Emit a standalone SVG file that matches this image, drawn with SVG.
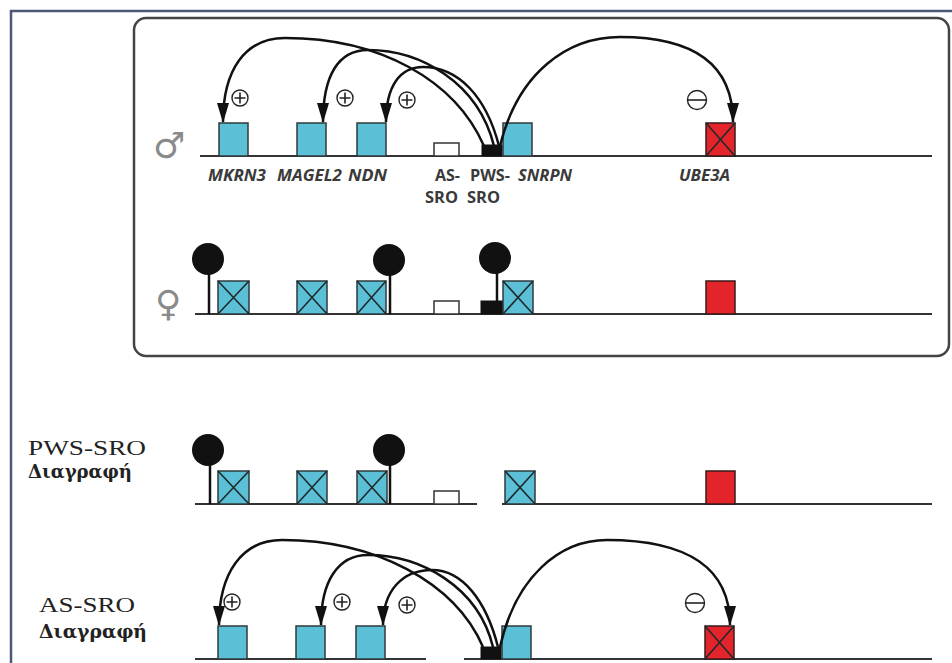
<svg xmlns="http://www.w3.org/2000/svg" width="952" height="663" viewBox="0 0 952 663">
<defs>
<style>
.gene{fill:#5bbfd6;stroke:#2f3a3d;stroke-width:1.5}
.red{fill:#e3242b;stroke:#3a1a1a;stroke-width:1.5}
.blk{fill:#111;stroke:#111;stroke-width:1}
.wht{fill:#fff;stroke:#333;stroke-width:1.5}
.x{stroke:#1e2a2c;stroke-width:1.6;fill:none}
.base{stroke:#333;stroke-width:2;fill:none}
.stem{stroke:#111;stroke-width:2.5;fill:none}
.pin{fill:#111}
.arc{stroke:#111;stroke-width:2.5;fill:none;marker-end:url(#ah)}
.sgn{fill:#fff;stroke:#222;stroke-width:1.4}
.sgnl{stroke:#222;stroke-width:1.6;fill:none}
.lbl{font-family:"Open Sans","DejaVu Sans",sans-serif;font-weight:bold;font-style:italic;font-size:16px;fill:#3a3a3a}
.lbn{font-family:"Open Sans","DejaVu Sans",sans-serif;font-weight:bold;font-size:16px;fill:#3a3a3a}
.ser{font-family:"Liberation Serif","DejaVu Serif",serif;font-size:22px;fill:#222}
.serb{font-family:"DejaVu Serif","Liberation Serif",serif;font-size:18px;font-weight:bold;fill:#222}
.sym{font-family:"DejaVu Sans",sans-serif;font-size:36px;fill:#8a8a8a}
</style>
<marker id="ah" markerUnits="userSpaceOnUse" markerWidth="20" markerHeight="12" viewBox="0 0 20 12" refX="19" refY="6" orient="auto">
<path d="M0,0 L20,6 L0,12 z" fill="#111"/>
</marker>
</defs>
<rect x="0" y="0" width="952" height="663" fill="#fff"/>
<path d="M11,663 L11,11 L952,11" fill="none" stroke="#4b5878" stroke-width="2.5"/>
<rect x="134" y="18" width="815" height="338" rx="12" fill="#fff" stroke="#444" stroke-width="2.5"/>

<g id="male-row">
<text class="sym" x="153" y="158">♂</text>
<line class="base" x1="200" y1="156" x2="932" y2="156"/>
<g id="m-mkrn3"><rect class="gene" x="219" y="123" width="29" height="33"/></g>
<g id="m-magel2"><rect class="gene" x="297" y="123" width="29" height="33"/></g>
<g id="m-ndn"><rect class="gene" x="357" y="123" width="29" height="33"/></g>
<g id="m-as"><rect class="wht" x="434" y="143" width="25" height="13"/></g>
<g id="m-pws"><rect class="blk" x="482" y="145" width="20" height="11"/></g>
<g id="m-snrpn"><rect class="gene" x="503" y="123" width="29" height="33"/></g>
<g id="m-ube3a"><rect class="red" x="706" y="123" width="29" height="33"/><path class="x" d="M706,123 L735,156 M735,123 L706,156"/></g>
<text class="lbl" x="208" y="181" textLength="58" lengthAdjust="spacingAndGlyphs">MKRN3</text>
<text class="lbl" x="277" y="181" textLength="65" lengthAdjust="spacingAndGlyphs">MAGEL2</text>
<text class="lbl" x="348" y="181" textLength="39" lengthAdjust="spacingAndGlyphs">NDN</text>
<text class="lbn" x="435" y="181" textLength="25" lengthAdjust="spacingAndGlyphs">AS-</text>
<text class="lbn" x="470" y="181" textLength="40" lengthAdjust="spacingAndGlyphs">PWS-</text>
<text class="lbl" x="518" y="181" textLength="54" lengthAdjust="spacingAndGlyphs">SNRPN</text>
<text class="lbl" x="679" y="181" textLength="51" lengthAdjust="spacingAndGlyphs">UBE3A</text>
<text class="lbn" x="425" y="203" textLength="33" lengthAdjust="spacingAndGlyphs">SRO</text>
<text class="lbn" x="467" y="203" textLength="33" lengthAdjust="spacingAndGlyphs">SRO</text>
<g id="m-signs">
<circle class="sgn" cx="240" cy="98" r="8"/><path class="sgnl" d="M234.5,98 h11 M240,92.5 v11"/>
<circle class="sgn" cx="345" cy="98" r="8"/><path class="sgnl" d="M339.5,98 h11 M345,92.5 v11"/>
<circle class="sgn" cx="407" cy="100" r="8"/><path class="sgnl" d="M401.5,100 h11 M407,94.5 v11"/>
<circle class="sgn" cx="697" cy="100" r="9.5"/><path class="sgnl" d="M688,100 h18"/>
</g>
</g>

<g id="female-row">
<text class="sym" x="155" y="316">♀</text>
<line class="base" x1="195" y1="314" x2="932" y2="314"/>
<g id="f-mkrn3"><rect class="gene" x="218" y="281" width="31" height="33"/><path class="x" d="M218,281 L249,314 M249,281 L218,314"/></g>
<g id="f-magel2"><rect class="gene" x="297" y="281" width="30" height="33"/><path class="x" d="M297,281 L327,314 M327,281 L297,314"/></g>
<g id="f-ndn"><rect class="gene" x="357" y="281" width="29" height="33"/><path class="x" d="M357,281 L386,314 M386,281 L357,314"/></g>
<g id="f-as"><rect class="wht" x="434" y="301" width="25" height="13"/></g>
<g id="f-pws"><rect class="blk" x="481" y="301" width="22" height="13"/></g>
<g id="f-snrpn"><rect class="gene" x="503" y="281" width="30" height="33"/><path class="x" d="M503,281 L533,314 M533,281 L503,314"/></g>
<g id="f-ube3a"><rect class="red" x="706" y="281" width="29" height="33"/></g>
<g id="f-meth">
<line class="stem" x1="209" y1="314" x2="209" y2="260"/><circle class="pin" cx="208" cy="259" r="16"/>
<line class="stem" x1="390" y1="314" x2="390" y2="260"/><circle class="pin" cx="389" cy="260" r="16"/>
<line class="stem" x1="497" y1="301" x2="497" y2="259"/><circle class="pin" cx="495" cy="258" r="16"/>
</g>
</g>

<g id="pws-del-row">
<text class="ser" x="28" y="455" textLength="118" lengthAdjust="spacingAndGlyphs">PWS-SRO</text>
<text class="serb" x="28" y="478" textLength="104" lengthAdjust="spacingAndGlyphs">Διαγραφή</text>
<line class="base" x1="195" y1="504" x2="477" y2="504"/>
<line class="base" x1="502" y1="504" x2="932" y2="504"/>
<g id="p-mkrn3"><rect class="gene" x="218" y="471" width="31" height="33"/><path class="x" d="M218,471 L249,504 M249,471 L218,504"/></g>
<g id="p-magel2"><rect class="gene" x="297" y="471" width="30" height="33"/><path class="x" d="M297,471 L327,504 M327,471 L297,504"/></g>
<g id="p-ndn"><rect class="gene" x="357" y="471" width="30" height="33"/><path class="x" d="M357,471 L387,504 M387,471 L357,504"/></g>
<g id="p-as"><rect class="wht" x="434" y="491" width="25" height="13"/></g>
<g id="p-snrpn"><rect class="gene" x="505" y="471" width="30" height="33"/><path class="x" d="M505,471 L535,504 M535,471 L505,504"/></g>
<g id="p-ube3a"><rect class="red" x="706" y="471" width="29" height="33"/></g>
<g id="p-meth">
<line class="stem" x1="210" y1="504" x2="210" y2="451"/><circle class="pin" cx="208" cy="450" r="16"/>
<line class="stem" x1="390" y1="504" x2="390" y2="451"/><circle class="pin" cx="389" cy="450" r="16"/>
</g>
</g>

<g id="as-del-row">
<text class="ser" x="39" y="612" textLength="96" lengthAdjust="spacingAndGlyphs">AS-SRO</text>
<text class="serb" x="39" y="638" textLength="108" lengthAdjust="spacingAndGlyphs">Διαγραφή</text>
<line class="base" x1="195" y1="659" x2="426" y2="659"/>
<line class="base" x1="464" y1="659" x2="932" y2="659"/>
<g id="a-mkrn3"><rect class="gene" x="218" y="626" width="29" height="33"/></g>
<g id="a-magel2"><rect class="gene" x="296" y="626" width="29" height="33"/></g>
<g id="a-ndn"><rect class="gene" x="356" y="626" width="29" height="33"/></g>
<g id="a-pws"><rect class="blk" x="481" y="647" width="20" height="12"/></g>
<g id="a-snrpn"><rect class="gene" x="502" y="626" width="29" height="33"/></g>
<g id="a-ube3a"><rect class="red" x="705" y="626" width="29" height="33"/><path class="x" d="M705,626 L734,659 M734,626 L705,659"/></g>
<g id="a-signs">
<circle class="sgn" cx="232" cy="602" r="8"/><path class="sgnl" d="M226.5,602 h11 M232,596.5 v11"/>
<circle class="sgn" cx="342" cy="602" r="8"/><path class="sgnl" d="M336.5,602 h11 M342,596.5 v11"/>
<circle class="sgn" cx="407" cy="605" r="8"/><path class="sgnl" d="M401.5,605 h11 M407,599.5 v11"/>
<circle class="sgn" cx="695" cy="603" r="9.5"/><path class="sgnl" d="M686,603 h18"/>
</g>
</g>

<g id="connectors">
<path class="arc" d="M484,146 C455,80 380,38 285,38 C245,38 223,70 223,122"/>
<path class="arc" d="M494,146 C478,82 420,50 368,50 C338,50 323,76 323,122"/>
<path class="arc" d="M499,146 C486,96 458,67 423,67 C400,67 386,86 386,122"/>
<path class="arc" d="M500,146 C518,72 568,37 620,37 C690,37 733,62 733,122"/>
<path class="arc" d="M483,647 C455,582 375,540 282,540 C242,540 219,573 219,625"/>
<path class="arc" d="M493,647 C478,586 420,555 368,555 C338,555 321,581 321,625"/>
<path class="arc" d="M498,647 C486,600 462,570 432,570 C402,570 383,591 383,625"/>
<path class="arc" d="M500,647 C516,576 560,540 607,540 C690,540 730,570 730,625"/>
</g>
</svg>
